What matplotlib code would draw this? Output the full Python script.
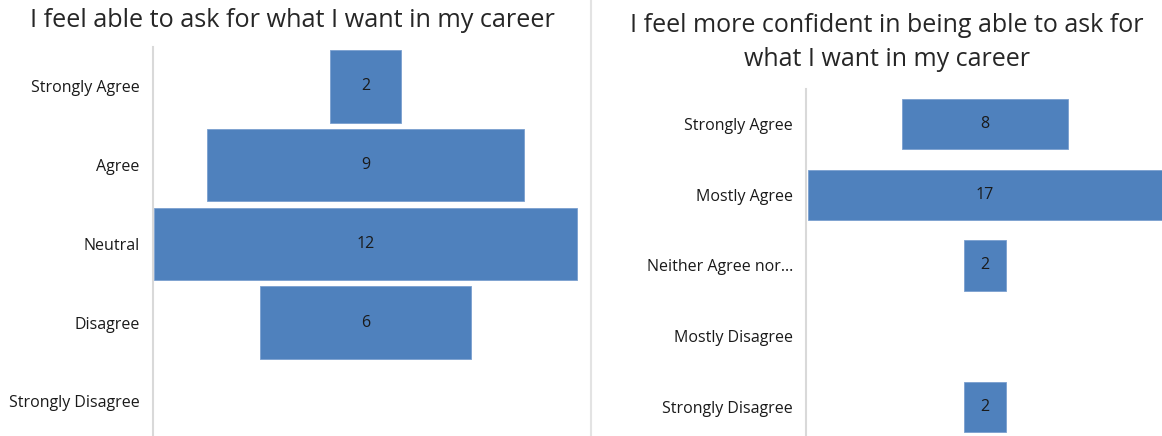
import matplotlib.pyplot as plt
from matplotlib.lines import Line2D

plt.rcParams['font.family'] = ['Open Sans', 'DejaVu Sans']

# Survey answers before / after
left_title = "I feel able to ask for what I want in my career"
left_cats = ["Strongly Agree", "Agree", "Neutral", "Disagree", "Strongly Disagree"]
left_vals = [2, 9, 12, 6, 0]

right_title = "I feel more confident in being able to ask for\nwhat I want in my career"
right_cats = ["Strongly Agree", "Mostly Agree", "Neither Agree nor...", "Mostly Disagree", "Strongly Disagree"]
right_vals = [8, 17, 2, 0, 2]

BLUE = "#4F81BD"
GRID = "#D9D9D9"

fig = plt.figure(figsize=(11.62, 4.36), dpi=100)


def funnel(ax, cats, vals, height, xlim, ylim):
    ys = list(range(len(cats)))
    lefts = [-v / 2 for v in vals]
    widths = [0.6 if v > 0 else 0 for v in vals]
    ax.barh(ys, vals, left=lefts, height=height, color=BLUE,
            edgecolor="#7A9FCF", linewidth=widths)
    for y, v in zip(ys, vals):
        if v > 0:
            ax.text(0, y, str(v), ha="center", va="center", fontsize=11.5, color="#1a1a1a")
    ax.set_yticks(ys)
    ax.set_yticklabels(cats, fontsize=11.5, color="#1a1a1a")
    ax.tick_params(axis="y", length=0, pad=9.5)
    ax.set_xticks([])
    ax.set_xlim(*xlim)
    ax.set_ylim(*ylim)
    for s in ["top", "right", "bottom"]:
        ax.spines[s].set_visible(False)
    ax.spines["left"].set_color(GRID)
    ax.spines["left"].set_linewidth(1.5)


ax1 = fig.add_axes([0.1317, 0.0, 0.3675, 0.8922])
funnel(ax1, left_cats, left_vals, 0.92, (-6.03, 6.1), (4.44, -0.5))

ax2 = fig.add_axes([0.6936, 0.0, 0.3064, 0.7968])
funnel(ax2, right_cats, right_vals, 0.71, (-8.6, 8.5), (4.41, -0.5))

fig.text(0.252, 0.953, left_title, ha="center", va="center", fontsize=18.2, color="#262626")
fig.text(0.763, 0.903, right_title, ha="center", va="center", fontsize=18,
         color="#262626", linespacing=1.45)

# thin divider between the two panels
fig.add_artist(Line2D([591 / 1162, 591 / 1162], [0, 1], transform=fig.transFigure,
                      color="#E3E3E3", linewidth=1.5))

fig.savefig("out.png", dpi=100)
